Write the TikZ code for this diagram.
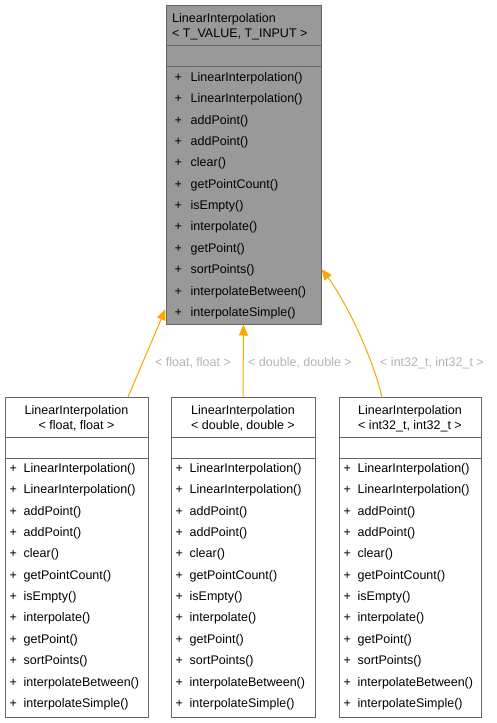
\documentclass[tikz,border=0pt]{standalone}
\usepackage{fontspec}
\setmainfont{Liberation Sans}
\usetikzlibrary{arrows.meta}
\definecolor{boxline}{HTML}{666666}
\definecolor{basefill}{HTML}{999999}
\definecolor{edgecol}{HTML}{FFA500}
\definecolor{lblcol}{HTML}{B4B4B4}
\tikzset{
  classbox/.style={draw=boxline, line width=1pt, inner sep=0pt},
  sepline/.style={draw=boxline, line width=1pt},
  txt/.style={inner sep=0pt, anchor=base west, font=\fontsize{12.5}{15}\selectfont},
  ctxt/.style={inner sep=0pt, anchor=base, font=\fontsize{12.5}{15}\selectfont},
  lbl/.style={inner sep=0pt, anchor=base, text=lblcol, font=\fontsize{12.5}{15}\selectfont},
  inh/.style={draw=edgecol, line width=1pt, -{Triangle[length=11pt,width=9pt]}},
}
\begin{document}
\begin{tikzpicture}[x=1pt,y=-1pt]
\useasboundingbox (0,0) rectangle (496,723);
\fill[white] (0,0) rectangle (496,723);
% base class
\node[classbox, fill=basefill, minimum width=155pt, minimum height=319pt] (base) at (243.5,164.5) {};
\draw[sepline] (166,45) -- (321,45);
\draw[sepline] (166,66) -- (321,66);
\node[txt] (bt1) at (172,22.4) {LinearInterpolation};
\node[txt] (bt2) at (172,37.4) {< T\_VALUE, T\_INPUT >};
\foreach \m [count=\i from 0] in {LinearInterpolation(),LinearInterpolation(),addPoint(),addPoint(),clear(),getPointCount(),isEmpty(),interpolate(),getPoint(),sortPoints(),interpolateBetween(),interpolateSimple()}{
  \node[txt] (bp\i) at (174.5,{81.4+21.36*\i}) {+};
  \node[txt] (bm\i) at (190.5,{81.4+21.36*\i}) {\m};
}
% derived classes
\foreach \nm/\cx/\w/\tl in {l/76.5/143/{< float, float >},m/243/144/{< double, double >},r/410/142/{< int32\_t, int32\_t >}}{
  \node[classbox, fill=white, minimum width=\w pt, minimum height=320pt] (\nm box) at (\cx,557) {};
  \draw[sepline] (\nm box.west |- 0,437) -- (\nm box.east |- 0,437);
  \draw[sepline] (\nm box.west |- 0,458.5) -- (\nm box.east |- 0,458.5);
  \node[ctxt] (\nm t1) at (\cx,414.4) {LinearInterpolation};
  \node[ctxt] (\nm t2) at (\cx,429.4) {\tl};
  \foreach \m [count=\i from 0] in {LinearInterpolation(),LinearInterpolation(),addPoint(),addPoint(),clear(),getPointCount(),isEmpty(),interpolate(),getPoint(),sortPoints(),interpolateBetween(),interpolateSimple()}{
    \node[txt] (\nm p\i) at ([xshift=5pt]\nm box.west |- 0,{472.4+21.36*\i}) {+};
    \node[txt] (\nm m\i) at ([xshift=19pt]\nm box.west |- 0,{472.4+21.36*\i}) {\m};
  }
}
% connectors
\coordinate (ls) at (128,397);
\coordinate (lt) at (165.5,309);
\coordinate (rs) at (382,397);
\coordinate (rt) at (321.5,269);
\draw[inh] (ls) -- (lt);
\draw[inh] (mbox.north) -- (base.south);
\draw[inh] (rs) .. controls (372,355) and (345,300) .. (rt);
% labels
\node[lbl] (l1) at (193,366) {< float, float >};
\node[lbl] (l2) at (300,366) {< double, double >};
\node[lbl] (l3) at (432,366) {< int32\_t, int32\_t >};
\end{tikzpicture}
\end{document}
